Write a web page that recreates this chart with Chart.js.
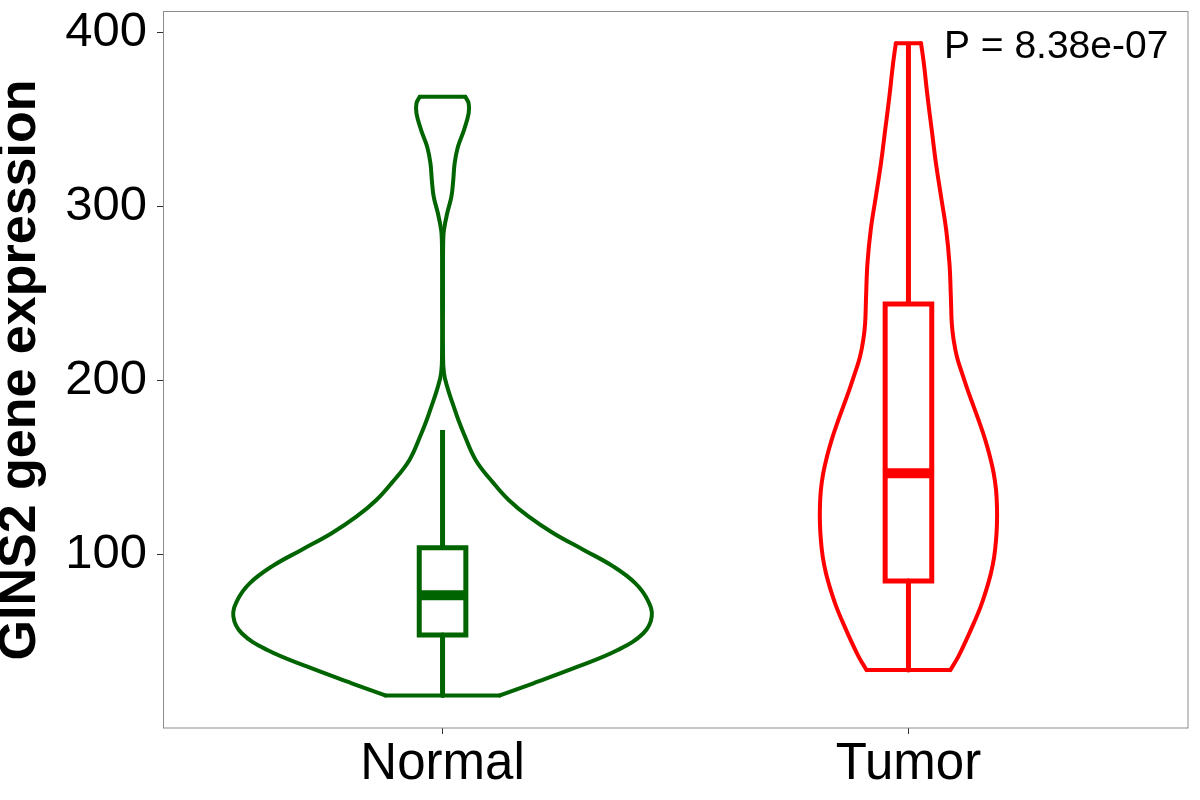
<!DOCTYPE html>
<html><head><meta charset="utf-8">
<style>html,body{margin:0;padding:0;background:#fff;} canvas{display:block;}</style>
<script src="https://cdn.jsdelivr.net/npm/chart.js@4.4.0/dist/chart.umd.min.js"></script>
</head><body>
<canvas id="c" width="1200" height="800"></canvas>
<script>
// ---------- data ----------
const categories = ['Normal', 'Tumor'];
const groupColors = ['#006400', '#FF0000'];
const yTicks = [100, 200, 300, 400];
const yTitle = 'GINS2 gene expression';
const pLabel = 'P = 8.38e-07';

// violin outlines: expression levels and density half-widths (x units)
const normalY = [19.3, 26.3, 35.8, 45.4, 55.0, 64.6, 74.2, 83.7, 93.3, 102.9, 112.5, 122.0, 131.6, 141.4, 154.6, 170.1, 177.5, 185.2, 194.8, 204.5, 217.7, 246.5, 269.5, 281.0, 286.7, 296.3, 305.8, 315.4, 325.0, 334.5, 344.1, 353.7, 359.4, 363.2];
const normalHalfWidth = [0.123, 0.195, 0.290, 0.376, 0.431, 0.449, 0.440, 0.414, 0.367, 0.303, 0.238, 0.185, 0.142, 0.109, 0.071, 0.045, 0.034, 0.024, 0.012, 0.003, 0.001, 0.001, 0.001, 0.0015, 0.003, 0.010, 0.019, 0.023, 0.026, 0.033, 0.046, 0.056, 0.056, 0.049];
const tumorY = [33.9, 41.6, 51.1, 60.7, 70.3, 79.9, 89.5, 99.0, 108.6, 118.2, 127.7, 137.3, 146.9, 156.4, 166.0, 175.6, 185.2, 194.8, 204.4, 213.9, 223.5, 233.1, 248.4, 267.5, 286.7, 305.8, 325.0, 344.1, 363.2, 382.4, 394.0];
const tumorHalfWidth = [0.090, 0.107, 0.124, 0.140, 0.155, 0.167, 0.177, 0.184, 0.188, 0.190, 0.190, 0.188, 0.183, 0.175, 0.165, 0.153, 0.140, 0.127, 0.115, 0.104, 0.097, 0.093, 0.091, 0.088, 0.081, 0.070, 0.059, 0.050, 0.041, 0.033, 0.027];

// box plot statistics per category
const whiskerLow = [19.3, 33.9];
const boxQ1 = [54.0, 85.1];
const boxMedian = [76.8, 146.9];
const boxQ3 = [104.2, 244.1];
const whiskerHigh = [171.8, 394.0];

// ---------- styling ----------
const FONT = "'Liberation Sans', Arial, Helvetica, sans-serif";
const BOX_HALF = 0.05;
const pLabelPos = {x: 2.317, y: 385.5};

const violinY = [normalY, tumorY];
const violinW = [normalHalfWidth, tumorHalfWidth];

function lineDs(points, color, width, extra) {
  return Object.assign({
    type: 'line', data: points, borderColor: color, borderWidth: width,
    pointRadius: 0, pointHoverRadius: 0, fill: false, tension: 0,
    borderCapStyle: 'butt', borderJoinStyle: 'round'
  }, extra || {});
}

const sideOpts = {tension: 0.4, borderCapStyle: 'round', order: 3};

const datasets = [];
categories.forEach((cat, g) => {
  const c = g + 1, col = groupColors[g];
  const ys = violinY[g], ws = violinW[g];
  const n = ys.length;
  datasets.push(lineDs(ys.map((y, i) => ({x: c - ws[i], y})), col, 4, sideOpts));
  datasets.push(lineDs(ys.map((y, i) => ({x: c + ws[i], y})), col, 4, sideOpts));
  datasets.push(lineDs([{x: c - ws[0], y: ys[0]}, {x: c + ws[0], y: ys[0]}], col, 4, {borderCapStyle: 'round', order: 3}));
  datasets.push(lineDs([{x: c - ws[n-1], y: ys[n-1]}, {x: c + ws[n-1], y: ys[n-1]}], col, 4, {borderCapStyle: 'round', order: 3}));
  // whiskers
  datasets.push(lineDs([{x: c, y: boxQ3[g]}, {x: c, y: whiskerHigh[g]}], col, 5, {order: 2}));
  datasets.push(lineDs([{x: c, y: boxQ1[g]}, {x: c, y: whiskerLow[g]}], col, 5, {order: 2}));
  // box
  datasets.push(lineDs([
    {x: c - BOX_HALF, y: boxQ1[g]}, {x: c + BOX_HALF, y: boxQ1[g]},
    {x: c + BOX_HALF, y: boxQ3[g]}, {x: c - BOX_HALF, y: boxQ3[g]},
    {x: c - BOX_HALF, y: boxQ1[g]}, {x: c + BOX_HALF, y: boxQ1[g]}
  ], col, 5, {borderJoinStyle: 'miter', order: 1}));
  // median
  datasets.push(lineDs([{x: c - BOX_HALF, y: boxMedian[g]}, {x: c + BOX_HALF, y: boxMedian[g]}], col, 10, {order: 0}));
});

const panelPlugin = {
  id: 'panel',
  afterDraw(chart) {
    const {ctx, chartArea: a, scales} = chart;
    ctx.save();
    ctx.strokeStyle = '#8c8c8c';
    ctx.lineWidth = 1;
    ctx.strokeRect(a.left + 0.5, a.top - 0.5, a.right - a.left - 0.5, a.bottom - a.top + 0.5);
    ctx.fillStyle = '#000';
    ctx.font = '39px ' + FONT;
    ctx.textAlign = 'center';
    ctx.textBaseline = 'alphabetic';
    ctx.fillText(pLabel, scales.x.getPixelForValue(pLabelPos.x), scales.y.getPixelForValue(pLabelPos.y));
    ctx.restore();
  }
};

new Chart(document.getElementById('c'), {
  type: 'line',
  data: {datasets},
  plugins: [panelPlugin],
  options: {
    responsive: false, animation: false, devicePixelRatio: 1, events: [],
    layout: {padding: {top: 12, right: 12, left: 0, bottom: 0}},
    plugins: {legend: {display: false}, tooltip: {enabled: false}, title: {display: false}},
    scales: {
      x: {
        type: 'linear', min: 0.4, max: 2.6,
        afterBuildTicks: s => { s.ticks = categories.map((_, i) => ({value: i + 1})); },
        afterFit: s => { s.height = 72; s.paddingLeft = 0; s.paddingRight = 0; },
        ticks: {callback: v => categories[v - 1], font: {family: FONT, size: 51}, color: '#000', padding: 0, maxRotation: 0, autoSkip: false},
        grid: {drawOnChartArea: false, drawTicks: true, tickLength: 6, color: '#333333', lineWidth: 1},
        border: {display: false}
      },
      y: {
        type: 'linear', min: 0.6, max: 411.9,
        afterBuildTicks: s => { s.ticks = yTicks.map(v => ({value: v})); },
        afterFit: s => { s.width = 163; s.paddingTop = 0; s.paddingBottom = 0; },
        ticks: {font: {family: FONT, size: 49}, color: '#000', padding: 10},
        grid: {drawOnChartArea: false, drawTicks: true, tickLength: 6, color: '#333333', lineWidth: 1},
        border: {display: false},
        title: {display: true, text: yTitle, color: '#000', font: {family: FONT, size: 52, weight: 'bold', lineHeight: 0.8}, padding: {top: 0, bottom: 0}}
      }
    }
  }
});
</script>
</body></html>
